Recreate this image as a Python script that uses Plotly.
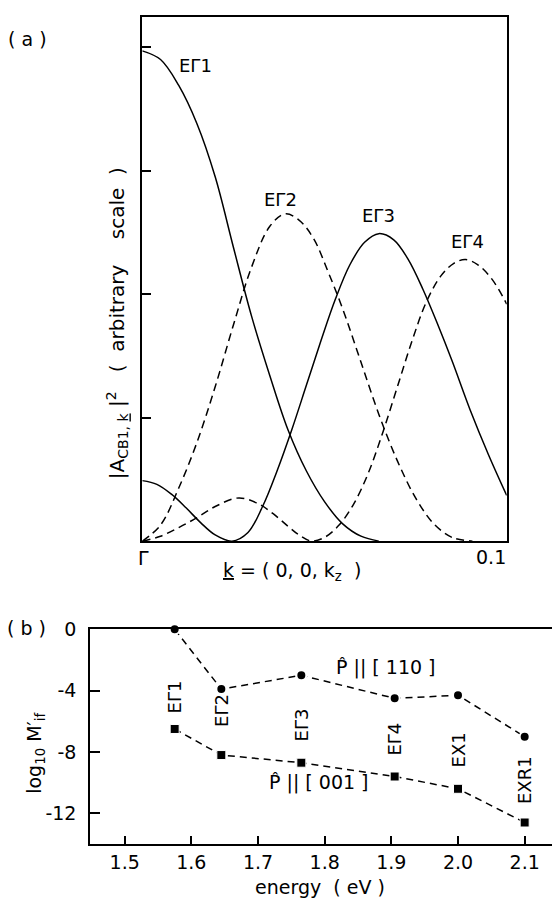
import plotly.graph_objects as go

# ---- panel (a): |A_CB1,k|^2 along k = (0,0,kz) ----
k_g1 = [0, 0.005, 0.010, 0.015, 0.020, 0.025, 0.030, 0.035, 0.040, 0.045, 0.050, 0.055,
        0.060, 0.0649]
a_g1 = [3.97, 3.90, 3.69, 3.38, 2.95, 2.38, 1.82, 1.34, 0.90, 0.57, 0.32, 0.14,
        0.04, 0.0]

k_g2 = [0, 0.005, 0.010, 0.015, 0.020, 0.025, 0.030, 0.035, 0.0392, 0.043, 0.047, 0.051,
        0.055, 0.060, 0.065, 0.070, 0.075, 0.080, 0.085, 0.0906]
a_g2 = [0.0, 0.13, 0.43, 0.80, 1.25, 1.75, 2.22, 2.55, 2.65, 2.60, 2.45, 2.18,
        1.88, 1.45, 1.02, 0.65, 0.35, 0.14, 0.03, 0.0]

k_g3 = [0, 0.004, 0.008, 0.012, 0.016, 0.020, 0.0246, 0.029, 0.033, 0.037, 0.041, 0.045,
        0.049, 0.053, 0.057, 0.061, 0.0649, 0.069, 0.073, 0.077, 0.081, 0.085, 0.090,
        0.095, 0.100]
a_g3 = [0.49, 0.46, 0.38, 0.27, 0.15, 0.05, 0.0, 0.07, 0.28, 0.57, 0.90, 1.26,
        1.62, 1.96, 2.24, 2.42, 2.49, 2.44, 2.28, 2.04, 1.76, 1.46, 1.06,
        0.70, 0.37]

k_g4 = [0, 0.005, 0.010, 0.015, 0.020, 0.0265, 0.032, 0.036, 0.040, 0.043, 0.0465, 0.050,
        0.054, 0.058, 0.062, 0.066, 0.070, 0.074, 0.078, 0.082, 0.0855, 0.0887, 0.092,
        0.096, 0.100]
a_g4 = [0.0, 0.04, 0.11, 0.19, 0.28, 0.35, 0.30, 0.22, 0.12, 0.05, 0.0, 0.03,
        0.13, 0.30, 0.55, 0.88, 1.25, 1.62, 1.94, 2.15, 2.25, 2.28, 2.24,
        2.12, 1.92]

curve_names = ["EΓ1", "EΓ2", "EΓ3", "EΓ4"]
curve_label_k = [0.0145, 0.0379, 0.0648, 0.0893]
curve_label_a = [3.85, 2.77, 2.64, 2.43]

# ---- panel (b): log10 M'_if versus transition energy ----
energy = [1.575, 1.645, 1.765, 1.905, 2.0, 2.1]
logM_110 = [0.0, -3.9, -3.0, -4.5, -4.3, -7.0]
logM_001 = [-6.5, -8.2, -8.7, -9.6, -10.4, -12.6]
state_names = ["EΓ1", "EΓ2", "EΓ3", "EΓ4", "EX1", "EXR1"]
state_label_y = [-4.4, -5.3, -6.25, -7.15, -7.9, -9.85]

energy_ticks = [1.5, 1.6, 1.7, 1.8, 1.9, 2.0, 2.1]
energy_ticktext = ["1.5", "1.6", "1.7", "1.8", "1.9", "2.0", "2.1"]
logM_ticks = [0, -4, -8, -12]
logM_ticktext = ["0", "-4", "-8", "-12"]

W, H = 552, 898
FONT = "DejaVu Sans"


def px(x):
    return x / W


def py(y):
    return 1 - y / H


fig = go.Figure()

line_styles = ["solid", "8px,5px", "solid", "8px,5px"]
for kk, aa, dash in zip([k_g1, k_g2, k_g3, k_g4], [a_g1, a_g2, a_g3, a_g4], line_styles):
    fig.add_trace(go.Scatter(
        x=kk, y=aa, mode="lines",
        line=dict(color="black", width=1.5, dash=dash, shape="spline", smoothing=1.0),
        xaxis="x", yaxis="y", showlegend=False, hoverinfo="skip"))

fig.add_trace(go.Scatter(
    x=energy, y=logM_110, mode="lines+markers",
    line=dict(color="black", width=1.5, dash="7px,5px"),
    marker=dict(symbol="circle", size=10, color="black", line=dict(color="white", width=2)),
    xaxis="x2", yaxis="y2", showlegend=False, cliponaxis=False))
fig.add_trace(go.Scatter(
    x=energy, y=logM_001, mode="lines+markers",
    line=dict(color="black", width=1.5, dash="7px,5px"),
    marker=dict(symbol="square", size=9, color="black", line=dict(color="white", width=1)),
    xaxis="x2", yaxis="y2", showlegend=False, cliponaxis=False))


def label(text, x, y, xref, yref, size, angle=0, xanchor="center"):
    return dict(x=x, y=y, xref=xref, yref=yref, text=text, showarrow=False,
                textangle=angle, xanchor=xanchor, yanchor="middle",
                font=dict(size=size, family=FONT, color="black"))


annotations = []
for name, kx, ay in zip(curve_names, curve_label_k, curve_label_a):
    annotations.append(label(name, kx, ay, "x", "y", 18))
for name, ex, ly in zip(state_names, energy, state_label_y):
    annotations.append(label(name, ex, ly, "x2", "y2", 18, angle=-90))
annotations += [
    label("P\u0302 || [ 110 ]", 1.8925, -2.5, "x2", "y2", 19),
    label("P\u0302 || [ 001 ]", 1.792, -10.0, "x2", "y2", 19),
    label("( a )", px(27), py(28), "paper", "paper", 19),
    label("( b )", px(26), py(625), "paper", "paper", 19),
    label("Γ", px(143), py(554), "paper", "paper", 19),
    label("0.1", px(508), py(553), "paper", "paper", 19, xanchor="right"),
    label("<u>k</u> = ( 0, 0, k<sub>z</sub>  )", px(292), py(567), "paper", "paper", 19),
    label("|A<sub>CB1, <u>k</u></sub> |<sup>2</sup>   (  arbitrary    scale  )",
          px(117), py(316), "paper", "paper", 20, angle=-90),
    label("log<sub>10</sub> M\u2032<sub>if</sub>", px(36), py(752), "paper", "paper", 19,
          angle=-90),
    label("energy  ( eV )", px(320), py(887), "paper", "paper", 19),
]

axis_common = dict(showgrid=False, zeroline=False, showline=True, linecolor="black",
                   linewidth=1.5, tickcolor="black", tickwidth=1.5)

fig.update_layout(
    width=W, height=H, margin=dict(l=0, r=0, t=0, b=0),
    paper_bgcolor="white", plot_bgcolor="white",
    font=dict(family=FONT, color="black"),
    xaxis=dict(domain=[px(142.3), px(506.7)], range=[0, 0.1], mirror=True, ticks="",
               showticklabels=False, anchor="y", **axis_common),
    yaxis=dict(domain=[py(536.7), py(6)], range=[0, 4.245], mirror=True, ticks="inside",
               ticklen=9, tickvals=[1, 2, 3, 4], showticklabels=False, anchor="x",
               **axis_common),
    xaxis2=dict(domain=[px(90), 1.0], range=[1.448, 2.141], mirror=True, ticks="inside",
                ticklen=8, tickvals=energy_ticks, ticktext=energy_ticktext,
                tickfont=dict(size=19, family=FONT), ticklabelstandoff=0, anchor="y2",
                **axis_common),
    yaxis2=dict(domain=[py(843.3), py(626)], range=[-14, 0], ticks="inside", ticklen=10,
                tickvals=logM_ticks, ticktext=logM_ticktext,
                tickfont=dict(size=19, family=FONT), ticklabelstandoff=8, anchor="x2",
                **axis_common),
    annotations=annotations,
)

fig.write_html("out.html")
